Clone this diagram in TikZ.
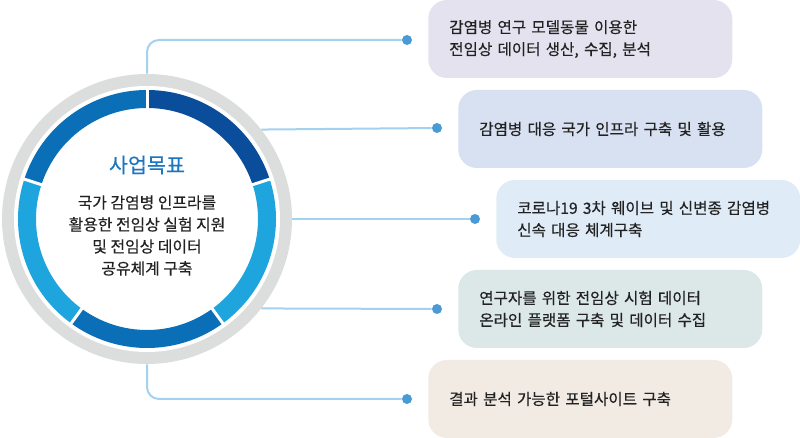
\documentclass[tikz,border=0pt]{standalone}
\usepackage{fontspec}
\setmainfont{Noto Sans CJK KR}[FakeBold=0.4]
\definecolor{greyc}{HTML}{DCDDDD}
\definecolor{darkb}{HTML}{0A4E9B}
\definecolor{medb}{HTML}{0A6FB7}
\definecolor{lightb}{HTML}{1FA5DE}
\definecolor{titlec}{HTML}{1B76C0}
\definecolor{textc}{HTML}{222222}
\definecolor{linec}{HTML}{A3D1F0}
\definecolor{dotc}{HTML}{4A9BD5}
\definecolor{fillA}{HTML}{E4E2EF}
\definecolor{fillB}{HTML}{D7E1F1}
\definecolor{fillC}{HTML}{DFECF8}
\definecolor{fillD}{HTML}{DCE7E8}
\definecolor{fillE}{HTML}{F2EBE3}
\begin{document}
\begin{tikzpicture}[x=0.75pt,y=0.75pt,
  conn/.style={draw=linec, line width=1.5pt},
  dotnode/.style={circle, fill=dotc, inner sep=0pt, minimum size=7.5pt},
  box/.style={rounded corners=14pt, minimum width=228pt, minimum height=58.5pt,
    text width=196.5pt, inner xsep=15.75pt, align=left, anchor=west,
    font=\fontsize{11.7}{16.5}\selectfont, text=textc},
  seg/.style={fill=#1},
  gap/.style={draw=white, line width=2.25pt}
]
\useasboundingbox (0,0) rectangle (800,438);
% ring
\fill[greyc] (147,219) circle (145);
\fill[white] (147,219) circle (133);
\foreach \a/\b/\c in {90/18/darkb, 18/-54/lightb, -54/-126/medb, -126/-198/lightb, 162/90/medb}{
  \fill[seg=\c] ([shift={(147,219)}]\a:129) arc[start angle=\a, end angle=\b, radius=129]
    -- ([shift={(147,219)}]\b:111) arc[start angle=\b, end angle=\a, radius=111] -- cycle;
}
\foreach \a in {90,18,-54,-126,162}{
  \draw[gap] ([shift={(147,219)}]\a:106) -- ([shift={(147,219)}]\a:131);
}
\node[circle, minimum size=217.5pt, inner sep=0pt] (ring) at (147,219) {};
\node[text=titlec, font=\fontsize{15.5}{18}\selectfont] (title) at (147,273) {사업목표};
\node[align=center, text=textc, font=\fontsize{11.9}{16.5}\selectfont] (goal) at (147,202.5)
  {국가 감염병 인프라를\\활용한 전임상 실험 지원\\및 전임상 데이터\\공유체계 구축};
% boxes
\node[box, fill=fillA] (b1) at (428,399) {감염병 연구 모델동물 이용한\\전임상 데이터 생산, 수집, 분석};
\node[box, fill=fillB] (b2) at (458,309) {감염병 대응 국가 인프라 구축 및 활용};
\node[box, fill=fillC] (b3) at (496,219) {코로나19 3차 웨이브 및 신변종 감염병\\신속 대응 체계구축};
\node[box, fill=fillD] (b4) at (458,129) {연구자를 위한 전임상 시험 데이터\\온라인 플랫폼 구축 및 데이터 수집};
\node[box, fill=fillE] (b5) at (428,39) {결과 분석 가능한 포털사이트 구축};
% dots
\node[dotnode] (d1) at (407,398) {};
\node[dotnode] (d2) at (437,310) {};
\node[dotnode] (d3) at (475,219) {};
\node[dotnode] (d4) at (437,129) {};
\node[dotnode] (d5) at (407,39) {};
% connectors
\draw[conn, rounded corners=9pt] (ring.north) |- (d1);
\draw[conn] (ring.38.9) -- (d2);
\draw[conn] (ring.east) -- (d3);
\draw[conn] (ring.-38.4) -- (d4);
\draw[conn, rounded corners=9pt] (ring.south) |- (d5);
\end{tikzpicture}
\end{document}
